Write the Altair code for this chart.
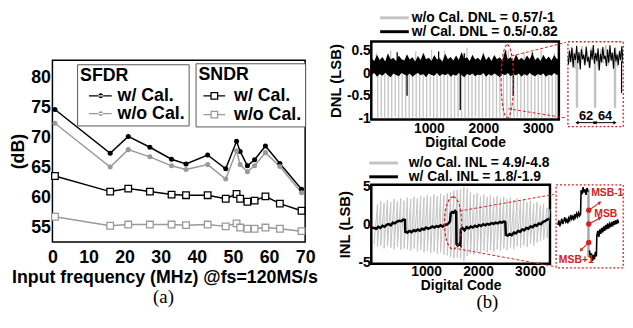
import altair as alt
import pandas as pd

FONT = "Liberation Sans"
SERIF = "Liberation Serif"
RED = "#d92020"
MID_GRAY = "#999999"
LIGHT_GRAY = "#c3c3c3"

# ---------------- panel (a): SFDR / SNDR vs input frequency ----------------
FREQ_MHZ = [0.7, 16, 21, 27, 33, 37, 43, 48, 51, 52, 54, 56, 59, 63, 69]
SFDR_W_CAL = [74.7, 67.4, 70.2, 68.4, 66.4, 65.6, 67.1, 64.8, 69.4, 67.7, 65.3, 66.3, 68.6, 65.7, 61.4]
SFDR_WO_CAL = [72.4, 65.1, 68.0, 66.8, 65.3, 64.7, 65.5, 63.1, 67.8, 65.5, 64.3, 65.3, 67.5, 65.2, 60.8]
SNDR_W_CAL = [63.6, 61.0, 61.5, 61.0, 60.5, 60.4, 60.4, 59.8, 60.6, 59.8, 59.3, 59.5, 60.2, 59.0, 57.8]
SNDR_WO_CAL = [56.8, 55.3, 55.5, 55.5, 55.5, 55.4, 55.5, 55.2, 55.7, 55.0, 54.8, 54.8, 55.0, 54.8, 54.4]
CAL_NAMES = ["w/ Cal.", "w/o Cal."]
FREQ_TICKS = [0, 10, 20, 30, 40, 50, 60, 70]
DB_TICKS = [55, 60, 65, 70, 75, 80]

# ---------------- panel (b): DNL ----------------
CODE_TICKS = [1000, 2000, 3000]
DNL_TICKS = [0.5, 0, -0.5, -1]
INL_TICKS = [5, 0, -5]
DNL_WO_NAME = "w/o Cal. DNL = 0.57/-1"
DNL_W_NAME = "w/ Cal. DNL = 0.5/-0.82"
INL_WO_NAME = "w/o Cal. INL = 4.9/-4.8"
INL_W_NAME = "w/ Cal. INL = 1.8/-1.9"

# segment boundaries (codes) of the uncalibrated 64-code pattern
SEG_CODES = [0, 64, 128, 192, 256, 320, 384, 448, 512, 576,
             640, 704, 768, 832, 896, 960, 1024, 1088, 1152, 1216,
             1280, 1344, 1408, 1472, 1536, 1600, 1664, 1728, 1792, 1856,
             1920, 1984, 2048, 2112, 2176, 2240, 2304, 2368, 2432, 2496,
             2560, 2624, 2688, 2752, 2816, 2880, 2944, 3008, 3072, 3136,
             3200, 3264, 3328, 3385]
# w/o Cal. DNL: downward spikes at every segment boundary
DNL_WO_SPIKE_MIN = [-1.0, -0.98, -1.0, -0.99, -1.0, -0.97, -1.0, -1.0, -0.99, -1.0,
                    -0.98, -1.0, -1.0, -0.99, -1.0, -0.97, -1.0, -1.0, -0.98, -1.0,
                    -0.99, -1.0, -1.0, -0.98, -1.0, -1.0, -0.99, -1.0, -0.97, -1.0,
                    -1.0, -0.98, -1.0, -0.99, -1.0, -1.0, -0.98, -1.0, -0.99, -1.0,
                    -0.97, -1.0, -1.0, -0.98, -1.0, -0.99, -1.0, -1.0, -0.98, -1.0,
                    -0.99, -1.0]
DNL_WO_PEAK_CODES = [40, 300, 760, 1050, 1290, 1700, 2000, 2460, 2750, 3060, 3300]
DNL_WO_PEAK_MAX = [0.45, 0.50, 0.48, 0.52, 0.50, 0.57, 0.46, 0.50, 0.47, 0.52, 0.45]
# w/ Cal. DNL: dense band (upper / lower envelope) plus isolated spikes
DNL_BAND_CODES = [-50, 0, 50, 100, 150, 200, 250, 300, 350, 400,
                  450, 500, 550, 600, 650, 700, 750, 800, 850, 900,
                  950, 1000, 1050, 1100, 1150, 1200, 1250, 1300, 1350, 1400,
                  1450, 1500, 1550, 1600, 1650, 1700, 1750, 1800, 1850, 1900,
                  1950, 2000, 2050, 2100, 2150, 2200, 2250, 2300, 2350, 2400,
                  2450, 2500, 2550, 2600, 2650, 2700, 2750, 2800, 2850, 2900,
                  2950, 3000, 3050, 3100, 3150, 3200, 3250, 3300, 3350, 3385]
DNL_BAND_HI = [0.33, 0.27, 0.41, 0.29, 0.36, 0.26, 0.44, 0.30, 0.34, 0.27,
               0.39, 0.31, 0.28, 0.42, 0.30, 0.35, 0.26, 0.38, 0.29, 0.45,
               0.31, 0.34, 0.27, 0.40, 0.30, 0.33, 0.26, 0.43, 0.31, 0.36,
               0.28, 0.39, 0.29, 0.47, 0.32, 0.35, 0.27, 0.41, 0.30, 0.34,
               0.28, 0.44, 0.29, 0.37, 0.27, 0.40, 0.31, 0.35, 0.28, 0.50,
               0.30, 0.36, 0.27, 0.42, 0.29, 0.34, 0.28, 0.39, 0.31, 0.44,
               0.29, 0.35, 0.27, 0.41, 0.30, 0.37, 0.28, 0.40, 0.31, 0.33]
DNL_BAND_LO = [-0.04, 0.00, -0.08, -0.02, -0.06, 0.01, -0.05, -0.09, -0.01, -0.04,
               -0.07, 0.00, -0.03, -0.06, -0.01, -0.08, -0.03, 0.00, -0.05, -0.02,
               -0.09, -0.01, -0.04, -0.06, 0.00, -0.07, -0.02, -0.05, -0.01, -0.08,
               -0.03, -0.06, 0.00, -0.04, -0.09, -0.02, -0.05, -0.01, -0.07, -0.03,
               -0.05, 0.00, -0.08, -0.02, -0.06, -0.01, -0.04, -0.09, -0.02, -0.05,
               0.00, -0.07, -0.03, -0.05, -0.01, -0.08, -0.02, -0.06, 0.00, -0.04,
               -0.07, -0.02, -0.05, -0.01, -0.08, -0.03, -0.06, 0.00, -0.04, -0.02]
DNL_W_DIP_CODES = [601, 1577, 2548]
DNL_W_DIP_MIN = [-0.50, -0.82, -0.50]
DNL_W_PEAK_CODES = [420, 1180, 1650, 2410, 2900]
DNL_W_PEAK_MAX = [0.46, 0.48, 0.44, 0.50, 0.46]
DNL_ELLIPSE = {"code": [2440], "v": [-0.18]}
DNL_LINKS = {"x1": [2516, 2456], "y1": [0.38, -0.79], "x2": [3512, 3512], "y2": [0.68, -0.995]}

# DNL zoom inset
DNL_IN_CODES = [2350, 2354, 2358, 2362, 2366, 2370, 2374, 2378, 2382, 2386,
                2390, 2394, 2398, 2402, 2406, 2410, 2414, 2418, 2422, 2426,
                2430, 2434, 2438, 2442, 2446, 2450, 2454, 2458, 2462, 2466,
                2470, 2474, 2478, 2482, 2486, 2490, 2494, 2498, 2502, 2506,
                2510, 2514, 2518, 2522, 2526, 2530, 2534, 2538]
DNL_IN_W = [0.22, 0.02, 0.35, 0.08, 0.42, -0.05, 0.28, 0.12, 0.46, 0.05,
            0.31, -0.10, 0.38, 0.14, 0.25, 0.00, 0.44, 0.09, 0.20, -0.06,
            0.36, 0.13, 0.48, 0.04, 0.29, 0.10, 0.40, -0.12, 0.27, 0.07,
            0.43, 0.15, 0.23, -0.02, 0.37, 0.06, 0.47, 0.11, 0.30, -0.08,
            0.41, 0.09, 0.26, 0.01, 0.33, 0.12, 0.45, 0.05]
DNL_IN_G_CODES = [2352, 2360, 2368, 2376, 2384, 2392, 2400, 2408, 2416, 2424, 2432, 2440,
                  2448, 2456, 2464, 2472, 2480, 2488, 2496, 2504, 2512, 2520, 2528, 2536]
DNL_IN_G = [0.30, 0.05, 0.40, -0.08, 0.33, 0.10, 0.45, 0.02, 0.36, -0.05, 0.42, 0.12,
            0.28, -0.10, 0.39, 0.06, 0.47, 0.00, 0.31, 0.11, 0.43, -0.04, 0.35, 0.08]
DNL_IN_SPIKES = [2383, 2444, 2511]
DNL_IN_W_SPIKE = {"code": [2533], "lo": [-0.65], "hi": [0.1]}
GAP_LABELS = ["62", "64"]
GAP_FROM = [2383, 2444]
GAP_TO = [2444, 2511]

# ---------------- panel (b): INL ----------------
INL_WO_HIGH = [2.6, 3.0, 2.8, 3.2, 2.9, 3.3, 3.0, 3.4, 3.1, 3.5,
               3.3, 3.6, 3.4, 3.7, 3.5, 3.8, 3.6, 3.9, 3.7, 4.0,
               3.8, 4.1, 4.2, 4.4, 4.5, 4.6, 4.9, 4.7, 4.2, 3.9,
               4.1, 3.7, 3.9, 3.6, 3.8, 3.5, 3.7, 3.4, 3.6, 3.3,
               3.5, 3.2, 3.4, 3.0, 3.2, 2.9, 3.1, 2.7, 2.9, 2.5,
               2.7, 2.2, 2.0]
INL_WO_LOW = [-2.6, -3.0, -2.8, -3.2, -2.9, -3.1, -3.3, -3.0, -3.4, -3.2,
              -3.3, -3.5, -3.2, -3.6, -3.4, -3.7, -3.5, -3.8, -3.6, -3.9,
              -3.7, -4.0, -4.1, -4.3, -4.5, -4.4, -4.6, -4.8, -4.2, -3.9,
              -4.0, -3.6, -3.8, -3.5, -3.7, -3.4, -3.6, -3.3, -3.5, -3.2,
              -3.4, -3.1, -3.3, -2.9, -3.1, -2.8, -3.0, -2.6, -2.8, -2.4,
              -2.2, -2.0, -1.8]
INL_W_CODES = [-40, 0, 40, 80, 120, 160, 200, 240, 280, 320, 360, 400, 440, 480, 520, 560, 594,
               600, 640, 680, 720, 760, 800, 840, 880, 920, 960, 1000, 1040, 1080, 1120, 1160,
               1200, 1240, 1280, 1320, 1360, 1400, 1430, 1460,
               1475, 1500, 1530, 1560, 1580,
               1585, 1610, 1640, 1660,
               1668, 1700, 1740, 1780, 1820, 1860, 1900, 1940, 1980, 2020, 2060, 2100, 2140,
               2180, 2220, 2260, 2300, 2340, 2380, 2420, 2460, 2500, 2525,
               2535, 2570, 2610, 2650, 2690, 2730, 2770, 2810, 2850, 2890, 2930, 2970, 3010,
               3050, 3090, 3130, 3170, 3210, 3250, 3290, 3330, 3370]
INL_W_VALS = [-0.45, -0.5, -0.6, -0.35, -0.5, -0.2, -0.35, -0.1, 0.0, -0.15, 0.2, 0.1, 0.35, 0.45, 0.4, 0.6, 0.55,
              -1.0, -1.1, -0.9, -1.05, -0.8, -0.9, -0.7, -0.85, -0.6, -0.7, -0.45, -0.6, -0.5, -0.3, -0.45,
              -0.25, -0.35, -0.15, -0.3, -0.1, -0.05, 0.1, 0.35,
              1.4, 1.6, 1.5, 1.75, 1.6,
              -2.6, -2.8, -2.6, -2.75,
              -0.7, -0.5, -0.8, -0.4, -0.55, -0.3, -0.45, -0.2, -0.35, -0.1, -0.25, 0.0, -0.15,
              0.05, -0.05, 0.15, 0.05, 0.2, 0.1, 0.3, 0.2, 0.35, 0.25,
              -1.4, -1.5, -1.3, -1.45, -1.1, -1.2, -0.9, -1.0, -0.7, -0.8, -0.5, -0.6, -0.3,
              -0.4, -0.1, -0.2, 0.1, 0.0, 0.3, 0.4, 0.6, 0.7]
INL_ELLIPSE = {"code": [1520], "v": [0.15]}
INL_LINKS = {"x1": [1647, 1617], "y1": [1.73, -3.25], "x2": [3461, 3461], "y2": [3.92, -5.56]}

# INL zoom inset (around the MSB transition)
INL_IN_A_CODES = [1243, 1253, 1263, 1273, 1283, 1293, 1303, 1313, 1323, 1333, 1343, 1353, 1363, 1373,
                  1383, 1393, 1403, 1413, 1423, 1433, 1443, 1453, 1463, 1473, 1478, 1488, 1498, 1508,
                  1518, 1528, 1538, 1548]
INL_IN_A_VALS = [-0.6, -0.3, -0.7, -0.45, -0.2, -0.55, -0.35, -0.1, -0.4, -0.25, -0.5, -0.15, -0.3, 0.05,
                 -0.2, -0.05, -0.3, 0.1, -0.1, 0.15, -0.05, 0.2, 0.0, 0.1, 1.7, 1.45, 1.9, 1.55,
                 1.75, 1.4, 1.85, 1.6]
INL_IN_B_CODES = [1563, 1573, 1583, 1593, 1603, 1613, 1623, 1633, 1638, 1648, 1658, 1668, 1678, 1688,
                  1698, 1708, 1718, 1728, 1738, 1748, 1758, 1768, 1778, 1788, 1798, 1808, 1818, 1828,
                  1838, 1848, 1858]
INL_IN_B_VALS = [-2.3, -2.8, -2.5, -3.0, -2.6, -2.9, -2.4, -2.7, -1.3, -1.0, -1.4, -0.9, -1.2, -0.8,
                 -1.1, -0.7, -1.0, -0.6, -0.9, -0.5, -0.85, -0.55, -0.75, -0.4, -0.7, -0.35, -0.6, -0.3,
                 -0.55, -0.25, -0.5]
INL_IN_GRAY = {"code": [1553], "lo": [-2.75], "hi": [1.75]}
MSB_DOT_CODE = [1556, 1556, 1556]
MSB_DOT_VALS = [0.37, -0.55, -1.78]
MSB_ARROW_END_CODE = [1668, 1671, 1476]
MSB_ARROW_END_VAL = [0.88, -0.14, -2.29]
MSB_ARROW_ANGLE = [55, 61, 224]
MSB_LABELS = ["MSB-1", "MSB", "MSB+1"]
MSB_LABEL_CODE = [1580, 1612, 1253]
MSB_LABEL_VAL = [1.52, 0.12, -2.96]

assert len(SEG_CODES) == 54 and len(DNL_WO_SPIKE_MIN) == 52
assert len(DNL_BAND_CODES) == len(DNL_BAND_HI) == len(DNL_BAND_LO)
assert len(DNL_IN_CODES) == len(DNL_IN_W) and len(DNL_IN_G_CODES) == len(DNL_IN_G)
assert len(INL_WO_HIGH) == len(INL_WO_LOW) == 53
assert len(INL_W_CODES) == len(INL_W_VALS)
assert len(INL_IN_A_CODES) == len(INL_IN_A_VALS) and len(INL_IN_B_CODES) == len(INL_IN_B_VALS)

INDEP = dict(color="independent")
NO_FRAME = alt.ViewBackground(stroke="transparent")

# =====================================================================
# panel (a)
# =====================================================================
def cal_table(w, wo):
    n = len(FREQ_MHZ)
    return pd.DataFrame({"f": FREQ_MHZ + FREQ_MHZ, "v": w + wo,
                         "cal": [CAL_NAMES[0]] * n + [CAL_NAMES[1]] * n})

sfdr_df = cal_table(SFDR_W_CAL, SFDR_WO_CAL)
sndr_df = cal_table(SNDR_W_CAL, SNDR_WO_CAL)

xa = alt.X("f:Q", scale=alt.Scale(domain=[0, 70], nice=False, zero=False),
           axis=alt.Axis(values=FREQ_TICKS, title="Input frequency (MHz) @fs=120MS/s",
                         labelFlush=False, labelFontSize=18, titleFontSize=18,
                         labelPadding=7, titlePadding=2, titleX=113.5))
ya = alt.Y("v:Q", scale=alt.Scale(domain=[52.6, 82.9], nice=False, zero=False),
           axis=alt.Axis(values=DB_TICKS, title="(dB)", labelFontSize=18, titleFontSize=18,
                         labelPadding=2, titlePadding=3.5, minExtent=22, maxExtent=22))
cal_scale = alt.Scale(domain=CAL_NAMES, range=["black", MID_GRAY])

SFDR_SYM = "M0,-0.075H2.56V0.075H0Z M1.05,0A0.28,0.28 0 1,0 1.61,0A0.28,0.28 0 1,0 1.05,0Z"
SNDR_SYM = "M-0.56,0H0.30 M0.30,-0.37H1.04V0.37H0.30Z M1.04,0H1.89"

def box_legend(title, x, y, sym, offset, stroke_w, fill=None):
    kw = dict(title=title, orient="none", legendX=x, legendY=y, symbolType=sym, symbolSize=324,
              symbolStrokeWidth=stroke_w, symbolOpacity=1, labelOffset=offset, padding=3,
              titlePadding=2, rowPadding=0, strokeColor="#555555", fillColor="white",
              titleFontSize=18, labelFontSize=18, titleFont=FONT, labelFont=FONT,
              titleFontWeight="bold", labelFontWeight="bold", titleColor="black",
              labelColor="black", labelLimit=200)
    if fill:
        kw["symbolFillColor"] = fill
    return alt.Legend(**kw)

sfdr_line = alt.Chart(sfdr_df).mark_line(strokeWidth=1.5).encode(
    x=xa, y=ya, color=alt.Color("cal:N", scale=cal_scale, legend=None))
sfdr_pts = alt.Chart(sfdr_df).mark_point(filled=True, size=26, opacity=1).encode(
    x=xa, y=ya, color=alt.Color("cal:N", scale=cal_scale,
                                legend=box_legend("SFDR", 25, 4, SFDR_SYM, 20, 0)))
sndr_line = alt.Chart(sndr_df).mark_line(strokeWidth=1.5).encode(
    x=xa, y=ya, color=alt.Color("cal:N", scale=cal_scale, legend=None))
sndr_pts = alt.Chart(sndr_df).mark_point(shape="square", filled=False, fill="white", size=45,
                                         strokeWidth=1.3, opacity=1).encode(
    x=xa, y=ya, color=alt.Color("cal:N", scale=cal_scale,
                                legend=box_legend("SNDR", 145, 3, SNDR_SYM, 16, 1.3, "white")))

left_chart = alt.layer(sfdr_line, sfdr_pts, sndr_line, sndr_pts).resolve_scale(**INDEP).properties(
    width=256, height=184,
    view=alt.ViewBackground(stroke="black", strokeWidth=1.5))

# empty spacer cell that lowers panel (a) relative to the top of panel (b)
spacer = alt.Chart(pd.DataFrame({"k": [0]})).mark_point(opacity=0, size=1).encode(
    x=alt.value(1), y=alt.value(1)).properties(width=256, height=49, view=NO_FRAME)

left_col = alt.concat(spacer, left_chart, columns=1, spacing=-10, align="each",
                      title=alt.Title("(a)", orient="bottom", anchor="middle", font=SERIF,
                                      fontSize=19, fontWeight="normal", color="black",
                                      offset=1, dx=0)).resolve_scale(**INDEP)

# =====================================================================
# panel (b) – legend cells (legend only, no data marks)
# =====================================================================
def legend_cell(names, x, y, h, offset):
    empty = pd.DataFrame({"s": pd.Series([], dtype=str), "v": pd.Series([], dtype=float)})
    return alt.Chart(empty).mark_line(strokeWidth=3).encode(
        x=alt.X("v:Q", axis=None, scale=alt.Scale(domain=[0, 1])),
        y=alt.Y("v:Q", axis=None, scale=alt.Scale(domain=[0, 1])),
        color=alt.Color("s:N", scale=alt.Scale(domain=names, range=[LIGHT_GRAY, "black"]),
                        legend=alt.Legend(
                            title=None, orient="none", legendX=x, legendY=y,
                            symbolType="M-1,0H28", symbolSize=4, symbolStrokeWidth=3,
                            symbolOpacity=1, labelOffset=offset, padding=0, rowPadding=-1.5,
                            labelFontSize=14, labelFont=FONT, labelFontWeight="bold",
                            labelColor="black", labelLimit=300))
    ).properties(width=190, height=h, view=NO_FRAME)

dnl_legend = legend_cell([DNL_WO_NAME, DNL_W_NAME], 3, 0, 30, 24)
inl_legend = legend_cell([INL_WO_NAME, INL_W_NAME], -8, 5, 27, 32)

# =====================================================================
# panel (b) – DNL
# =====================================================================
CODE_DOMAIN = [-55, 3385]
dnl_scale = alt.Scale(domain=[DNL_WO_NAME, DNL_W_NAME], range=[LIGHT_GRAY, "black"])
DNL_AX_X = alt.Axis(values=CODE_TICKS, format="d", title="Digital Code", labelFontSize=14,
                    titleFontSize=14, labelPadding=2, titlePadding=0, labelFlush=False)
DNL_AX_Y = alt.Axis(values=DNL_TICKS, labelExpr="toString(datum.value)", title="DNL (LSB)",
                    labelFontSize=14, titleFontSize=15, labelPadding=1, titlePadding=3,
                    minExtent=25.5, maxExtent=25.5)
DNL_Y_SCALE = alt.Scale(domain=[-1.03, 0.70], nice=False, zero=False)
CODE_SCALE = alt.Scale(domain=CODE_DOMAIN, nice=False, zero=False)

def dx(field):
    return alt.X(f"{field}:Q", scale=CODE_SCALE, axis=DNL_AX_X)

def dy(field):
    return alt.Y(f"{field}:Q", scale=DNL_Y_SCALE, axis=DNL_AX_Y)

spike_codes = SEG_CODES[1:-1]
rules_df = pd.DataFrame({
    "code": spike_codes + DNL_WO_PEAK_CODES + DNL_W_DIP_CODES + DNL_W_PEAK_CODES,
    "lo": DNL_WO_SPIKE_MIN + [0.2] * len(DNL_WO_PEAK_CODES) + DNL_W_DIP_MIN + [0.2] * len(DNL_W_PEAK_CODES),
    "hi": [0.05] * len(spike_codes) + DNL_WO_PEAK_MAX + [0.05] * len(DNL_W_DIP_CODES) + DNL_W_PEAK_MAX,
    "s": [DNL_WO_NAME] * (len(spike_codes) + len(DNL_WO_PEAK_CODES))
         + [DNL_W_NAME] * (len(DNL_W_DIP_CODES) + len(DNL_W_PEAK_CODES)),
})
band_df = pd.DataFrame({"code": DNL_BAND_CODES, "hi": DNL_BAND_HI, "lo": DNL_BAND_LO,
                        "s": [DNL_W_NAME] * len(DNL_BAND_CODES)})

dnl_rules = alt.Chart(rules_df).mark_rule(strokeWidth=1.3).encode(
    x=dx("code"), y=dy("lo"), y2=alt.Y2("hi:Q"),
    color=alt.Color("s:N", scale=dnl_scale, legend=None))
dnl_band = alt.Chart(band_df).mark_area(opacity=1, strokeWidth=0).encode(
    x=dx("code"), y=dy("hi"), y2=alt.Y2("lo:Q"),
    color=alt.Color("s:N", scale=dnl_scale, legend=None))
DNL_ELL_SHAPE = "M0,-1A0.17,1 0 1,1 0,1A0.17,1 0 1,1 0,-1Z"
dnl_ell = alt.Chart(pd.DataFrame(DNL_ELLIPSE)).mark_point(
    shape=DNL_ELL_SHAPE, size=5476, filled=False, color=RED, strokeWidth=1.2,
    strokeDash=[3, 2], opacity=1).encode(x=dx("code"), y=dy("v"))
dnl_links = alt.Chart(pd.DataFrame(DNL_LINKS)).mark_rule(
    color=RED, strokeWidth=1, strokeDash=[3, 2]).encode(
    x=dx("x1"), x2=alt.X2("x2:Q"), y=dy("y1"), y2=alt.Y2("y2:Q"))

dnl_main = alt.layer(dnl_rules, dnl_band, dnl_ell, dnl_links).properties(
    width=190, height=79, view=alt.ViewBackground(stroke="black", strokeWidth=2.5))

# DNL inset
IN_DNL_X = alt.Scale(domain=[2352, 2538], nice=False, zero=False)
IN_DNL_Y = alt.Scale(domain=[-1.44, 0.56], nice=False, zero=False)

def ix(field):
    return alt.X(f"{field}:Q", scale=IN_DNL_X, axis=None)

def iy(field):
    return alt.Y(f"{field}:Q", scale=IN_DNL_Y, axis=None)

in_gray = alt.Chart(pd.DataFrame({"code": DNL_IN_G_CODES, "v": DNL_IN_G})).mark_line(
    color=LIGHT_GRAY, strokeWidth=1.5, clip=True).encode(x=ix("code"), y=iy("v"))
in_spk = alt.Chart(pd.DataFrame({"code": DNL_IN_SPIKES, "lo": [-1.0] * 3, "hi": [0.1] * 3})).mark_rule(
    color=LIGHT_GRAY, strokeWidth=2.5).encode(x=ix("code"), y=iy("lo"), y2=alt.Y2("hi:Q"))
in_black = alt.Chart(pd.DataFrame({"code": DNL_IN_CODES, "v": DNL_IN_W})).mark_line(
    color="black", strokeWidth=1.1, clip=True).encode(x=ix("code"), y=iy("v"))
in_bspk = alt.Chart(pd.DataFrame(DNL_IN_W_SPIKE)).mark_rule(color="black", strokeWidth=1.2).encode(
    x=ix("code"), y=iy("lo"), y2=alt.Y2("hi:Q"))
gap_df = pd.DataFrame({"a": GAP_FROM, "b": GAP_TO, "y": [-1.35, -1.35]})
in_arrows = alt.Chart(gap_df).mark_rule(color="black", strokeWidth=1).encode(
    x=ix("a"), x2=alt.X2("b:Q"), y=iy("y"))
in_heads_l = alt.Chart(gap_df).mark_point(shape="triangle-left", filled=True, size=14,
                                          color="black", opacity=1).encode(x=ix("a"), y=iy("y"))
in_heads_r = alt.Chart(gap_df).mark_point(shape="triangle-right", filled=True, size=14,
                                          color="black", opacity=1).encode(x=ix("b"), y=iy("y"))
lab_df = pd.DataFrame({"code": [(a + b) / 2 for a, b in zip(GAP_FROM, GAP_TO)],
                       "y": [-1.19, -1.19], "t": GAP_LABELS})
in_labels = alt.Chart(lab_df).mark_text(font=FONT, fontSize=13, fontWeight="bold",
                                        color="black").encode(x=ix("code"), y=iy("y"), text="t:N")

dnl_inset = alt.layer(in_gray, in_spk, in_black, in_bspk, in_arrows, in_heads_l, in_heads_r,
                      in_labels).properties(
    width=56, height=86,
    view=alt.ViewBackground(stroke=RED, strokeDash=[2, 2], strokeWidth=1.3))

dnl_row = alt.hconcat(dnl_main, dnl_inset, spacing=-10).resolve_scale(**INDEP)

# =====================================================================
# panel (b) – INL
# =====================================================================
inl_scale = alt.Scale(domain=[INL_WO_NAME, INL_W_NAME], range=[LIGHT_GRAY, "black"])
INL_AX_X = alt.Axis(values=CODE_TICKS, format="d", title="Digital Code", labelFontSize=14,
                    titleFontSize=14, labelPadding=1, titlePadding=0, labelFlush=False)
INL_AX_Y = alt.Axis(values=INL_TICKS, labelExpr="toString(datum.value)", title="INL (LSB)",
                    labelFontSize=14, titleFontSize=15, labelPadding=1, titlePadding=3,
                    minExtent=16, maxExtent=16)
INL_Y_SCALE = alt.Scale(domain=[-5.2, 5.2], nice=False, zero=False)

def nx(field):
    return alt.X(f"{field}:Q", scale=CODE_SCALE, axis=INL_AX_X)

def ny(field):
    return alt.Y(f"{field}:Q", scale=INL_Y_SCALE, axis=INL_AX_Y)

saw_code, saw_val = [], []
for i in range(len(INL_WO_HIGH)):
    saw_code += [SEG_CODES[i], SEG_CODES[i + 1]]
    saw_val += [INL_WO_LOW[i], INL_WO_HIGH[i]]
saw_df = pd.DataFrame({"code": saw_code, "v": saw_val, "i": list(range(len(saw_code))),
                       "s": [INL_WO_NAME] * len(saw_code)})
inl_w_df = pd.DataFrame({"code": INL_W_CODES, "v": INL_W_VALS, "s": [INL_W_NAME] * len(INL_W_CODES)})

inl_saw = alt.Chart(saw_df).mark_line(strokeWidth=1).encode(
    x=nx("code"), y=ny("v"), order=alt.Order("i:Q"),
    color=alt.Color("s:N", scale=inl_scale, legend=None))
inl_black = alt.Chart(inl_w_df).mark_line(strokeWidth=2.5).encode(
    x=nx("code"), y=ny("v"),
    color=alt.Color("s:N", scale=inl_scale, legend=None))
INL_ELL_SHAPE = "M0,-1A0.33,1 0 1,1 0,1A0.33,1 0 1,1 0,-1Z"
inl_ell = alt.Chart(pd.DataFrame(INL_ELLIPSE)).mark_point(
    shape=INL_ELL_SHAPE, size=2810, filled=False, color=RED, strokeWidth=1.2,
    strokeDash=[3, 2], opacity=1).encode(x=nx("code"), y=ny("v"))
inl_links = alt.Chart(pd.DataFrame(INL_LINKS)).mark_rule(
    color=RED, strokeWidth=1, strokeDash=[3, 2]).encode(
    x=nx("x1"), x2=alt.X2("x2:Q"), y=ny("y1"), y2=alt.Y2("y2:Q"))

inl_main = alt.layer(inl_saw, inl_black, inl_ell, inl_links).properties(
    width=181, height=80, view=alt.ViewBackground(stroke="black", strokeWidth=2.5))

# INL inset
IN_INL_X = alt.Scale(domain=[1223, 1903], nice=False, zero=False)
IN_INL_Y = alt.Scale(domain=[-3.45, 2.07], nice=False, zero=False)

def jx(field):
    return alt.X(f"{field}:Q", scale=IN_INL_X, axis=None)

def jy(field):
    return alt.Y(f"{field}:Q", scale=IN_INL_Y, axis=None)

msb_df = pd.DataFrame({"code": INL_IN_A_CODES + INL_IN_B_CODES, "v": INL_IN_A_VALS + INL_IN_B_VALS,
                       "seg": ["a"] * len(INL_IN_A_CODES) + ["b"] * len(INL_IN_B_CODES)})
j_gray = alt.Chart(pd.DataFrame(INL_IN_GRAY)).mark_rule(color="#a8a8a8", strokeWidth=2.5).encode(
    x=jx("code"), y=jy("lo"), y2=alt.Y2("hi:Q"))
j_black = alt.Chart(msb_df).mark_line(color="black", strokeWidth=1.6).encode(
    x=jx("code"), y=jy("v"), detail="seg:N")
arrow_df = pd.DataFrame({"x1": MSB_DOT_CODE, "y1": MSB_DOT_VALS, "x2": MSB_ARROW_END_CODE,
                         "y2": MSB_ARROW_END_VAL})
j_arrows = alt.Chart(arrow_df).mark_rule(color=RED, strokeWidth=1.1).encode(
    x=jx("x1"), x2=alt.X2("x2:Q"), y=jy("y1"), y2=alt.Y2("y2:Q"))
j_heads = [
    alt.Chart(arrow_df.iloc[[k]]).mark_point(shape="triangle-up", filled=True, size=16, color=RED,
                                             opacity=1, angle=MSB_ARROW_ANGLE[k]).encode(
        x=jx("x2"), y=jy("y2"))
    for k in range(len(MSB_ARROW_ANGLE))
]
j_dots = alt.Chart(pd.DataFrame({"code": MSB_DOT_CODE, "v": MSB_DOT_VALS})).mark_point(
    filled=True, size=30, color=RED, opacity=1).encode(x=jx("code"), y=jy("v"))
j_labels = alt.Chart(pd.DataFrame({"code": MSB_LABEL_CODE, "v": MSB_LABEL_VAL, "t": MSB_LABELS})).mark_text(
    align="left", baseline="middle", font=FONT, fontSize=10.5, fontWeight="bold", color=RED).encode(
    x=jx("code"), y=jy("v"), text="t:N")

inl_inset = alt.layer(j_gray, j_black, j_arrows, *j_heads, j_dots, j_labels).properties(
    width=68, height=84,
    view=alt.ViewBackground(stroke=RED, strokeDash=[2, 2], strokeWidth=1.3))

inl_row = alt.hconcat(inl_main, inl_inset, spacing=-10).resolve_scale(**INDEP)

right_col = alt.concat(dnl_legend, dnl_row, inl_legend, inl_row, columns=1, spacing=-10,
                       align="each",
                       title=alt.Title("(b)", orient="bottom", anchor="middle", font=SERIF,
                                       fontSize=19, fontWeight="normal", color="black",
                                       offset=0, dx=12)).resolve_scale(**INDEP)

chart = alt.hconcat(left_col, right_col, spacing=8).resolve_scale(**INDEP).properties(
    padding=0, background="white").configure_axis(
    grid=False, ticks=False, domain=False, labelFont=FONT, titleFont=FONT,
    labelFontWeight="bold", titleFontWeight="bold", labelColor="black", titleColor="black")

chart.save("out.html", embed_options={"renderer": "svg", "actions": False})
